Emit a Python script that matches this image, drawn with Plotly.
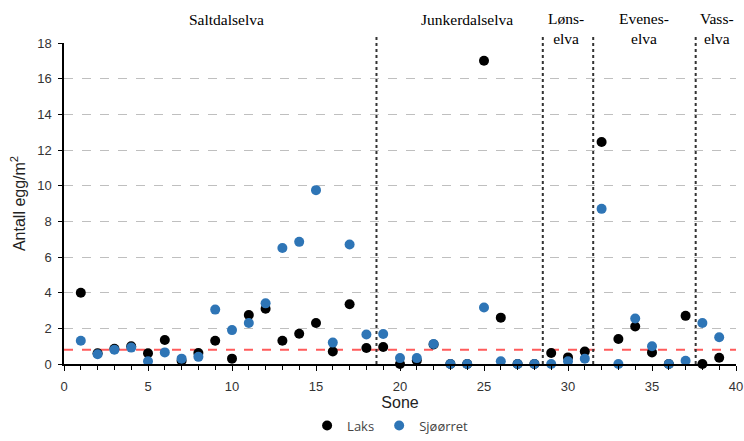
import plotly.graph_objects as go

zones = list(range(1, 40))
laks = [4.0, 0.6, 0.85, 1.0, 0.6, 1.35, 0.18, 0.62, 1.3, 0.3,
        2.75, 3.1, 1.3, 1.7, 2.3, 0.7, 3.35, 0.9, 0.95, 0.0,
        0.2, 1.1, 0.0, 0.0, 17.0, 2.6, 0.0, 0.0, 0.62, 0.37,
        0.7, 12.45, 1.4, 2.1, 0.65, 0.0, 2.7, 0.0, 0.35]
sjoorret = [1.3, 0.55, 0.8, 0.92, 0.15, 0.65, 0.3, 0.4, 3.05, 1.9,
            2.3, 3.4, 6.5, 6.85, 9.75, 1.2, 6.7, 1.65, 1.68, 0.33,
            0.33, 1.12, 0.0, 0.0, 3.17, 0.15, 0.0, 0.0, 0.0, 0.15,
            0.3, 8.7, 0.0, 2.55, 1.0, 0.0, 0.18, 2.3, 1.5]
threshold = 0.8
river_bounds = [18.6, 28.5, 31.5, 37.6]
river_labels = ["Saltdalselva", "Junkerdalselva", "Løns-<br>elva", "Evenes-<br>elva", "Vass-<br>elva"]
river_label_x = [9.7, 24.0, 29.9, 34.5, 38.85]

fig = go.Figure()
fig.add_trace(go.Scatter(x=zones, y=laks, mode="markers", name="Laks",
                         marker=dict(color="black", size=10), cliponaxis=False))
fig.add_trace(go.Scatter(x=zones, y=sjoorret, mode="markers", name="Sjøørret",
                         marker=dict(color="#2E75B6", size=10), cliponaxis=False))

fig.add_shape(type="line", xref="x", yref="y", x0=0, x1=40, y0=threshold, y1=threshold,
              line=dict(color="#FF5B5B", width=2, dash="dash"), layer="below")
for b in river_bounds:
    fig.add_shape(type="line", xref="x", yref="paper", x0=b, x1=b, y0=0, y1=1.02,
                  line=dict(color="#333333", width=2, dash="dot"))
for lab, lx in zip(river_labels, river_label_x):
    two = "<br>" in lab
    fig.add_annotation(x=lx, xref="x", y=1.044 if two else 1.074, yref="paper",
                       yanchor="middle", text=lab, showarrow=False,
                       font=dict(family="Liberation Serif", size=15.5, color="black"))

fig.update_xaxes(range=[0, 40], tickmode="array", tickvals=list(range(0, 41, 5)),
                 ticks="outside", ticklen=5, tickcolor="black",
                 minor=dict(ticks="outside", ticklen=4, dtick=1, tickcolor="black"),
                 showline=True, linecolor="black", linewidth=1.5, showgrid=False,
                 zeroline=False, automargin=False, ticklabelstandoff=5,
                 tickfont=dict(family="Liberation Sans", size=13, color="#333"),
                 title=dict(text="Sone", font=dict(family="Liberation Sans", size=16, color="#222"), standoff=4))
fig.update_yaxes(range=[0, 18], tickmode="array", tickvals=list(range(0, 19, 2)),
                 ticks="outside", ticklen=4, tickcolor="black",
                 showline=True, linecolor="black", linewidth=1.5,
                 showgrid=True, gridcolor="#BFBFBF", griddash="dash", gridwidth=1,
                 zeroline=False, automargin=False, ticklabelstandoff=4,
                 tickfont=dict(family="Liberation Sans", size=13, color="#333"),
                 title=dict(text="Antall egg/m<sup>2</sup>", font=dict(family="Liberation Sans", size=16, color="#222"), standoff=8))

fig.update_layout(width=744, height=441, plot_bgcolor="white", paper_bgcolor="white",
                  margin=dict(l=64, r=8, t=43, b=77),
                  showlegend=True,
                  legend=dict(orientation="h", x=0.525, xanchor="center", xref="container",
                              y=0.035, yanchor="middle", yref="container",
                              font=dict(family="Open Sans", size=13, color="#444"),
                              itemwidth=30, tracegroupgap=0))
fig.write_html("out.html")
